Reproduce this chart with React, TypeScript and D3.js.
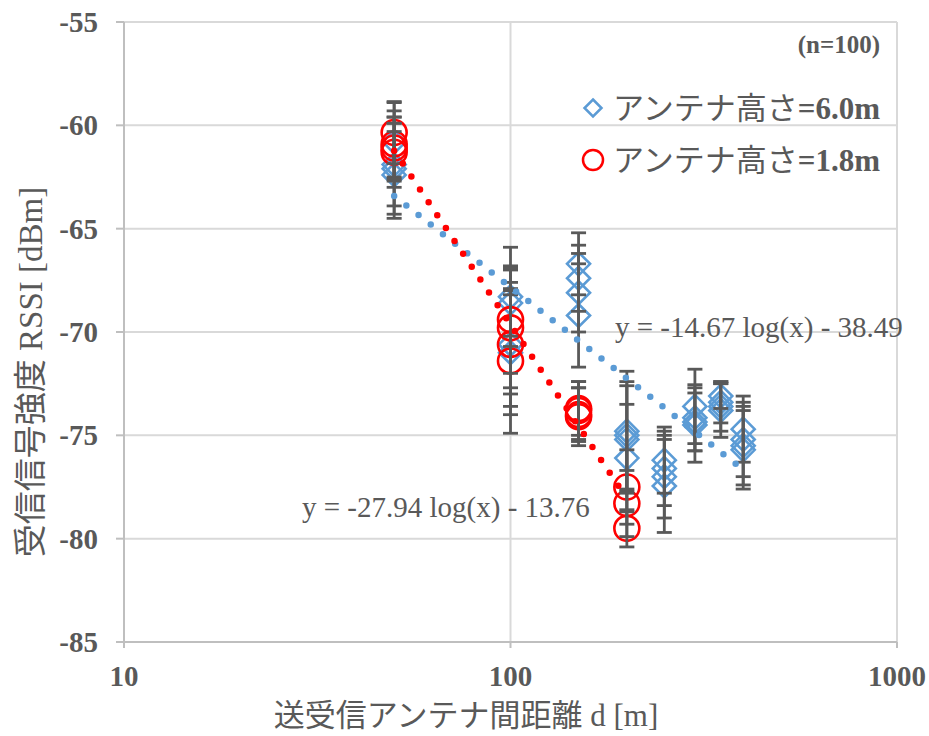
import React from "react";
import * as d3 from "d3";

// ---- Data ----
const blueDist = [50, 50, 50, 50, 100, 100, 100, 100, 150, 150, 150, 150, 200, 200, 200, 200, 250, 250, 250, 250, 300, 300, 300, 300, 350, 350, 350, 350, 400, 400, 400, 400];
const blueRSSI = [-60.8, -61.9, -62.1, -62.4, -68.3, -68.6, -70.6, -71.0, -66.7, -67.4, -68.1, -69.2, -74.8, -75.0, -75.2, -76.1, -76.2, -76.6, -77.0, -77.45, -73.6, -74.15, -74.35, -74.5, -73.1, -73.4, -73.6, -73.8, -74.7, -75.2, -75.5, -75.7];
const blueErr = [1.9, 2.0, 2.2, 2.1, 2.4, 1.6, 2.4, 3.0, 1.5, 1.6, 1.9, 2.5, 2.9, 2.6, 2.6, 2.6, 1.6, 1.8, 2.0, 2.25, 1.8, 1.6, 1.4, 1.8, 0.6, 1.0, 1.2, 1.3, 1.6, 1.8, 1.9, 1.9];

const redDist = [50, 50, 50, 50, 100, 100, 100, 100, 150, 150, 150, 150, 200, 200, 200];
const redRSSI = [-60.35, -60.9, -61.1, -61.3, -69.4, -69.8, -70.6, -71.4, -73.7, -73.8, -74.0, -74.1, -77.5, -78.3, -79.5];
const redErr = [1.5, 1.6, 1.5, 1.7, 2.6, 2.9, 3.0, 3.5, 1.3, 1.4, 1.3, 1.4, 1.8, 1.6, 0.9];

// trendlines: y = a*log10(x) + b
const trendA = [-14.67, -27.94];
const trendB = [-38.49, -13.76];
const trendFrom = [50, 50];
const trendTo = [400, 200];
const trendLabels = ["y = -14.67 log(x) - 38.49", "y = -27.94 log(x) - 13.76"];

const legendNames = ["アンテナ高さ", "アンテナ高さ"];
const legendValues = ["=6.0m", "=1.8m"];

const xTicks = [10, 100, 1000];
const yTicks = [-55, -60, -65, -70, -75, -80, -85];

const BLUE = "#5b9bd5";
const RED = "#ff0000";
const GRAY = "#595959";
const GRID = "#d9d9d9";
const SERIF = "'Liberation Serif', 'Times New Roman', serif";
const CJK = "'Noto Sans CJK JP', sans-serif";

export default function App() {
  const W = 929, H = 736;
  const x = d3.scaleLog().domain([10, 1000]).range([124, 897]);
  const y = d3.scaleLinear().domain([-85, -55]).range([642, 22]);

  const diamond = (cx: number, cy: number, s: number) =>
    `M${cx},${cy - s}L${cx + s},${cy}L${cx},${cy + s}L${cx - s},${cy}Z`;

  const errBars = (ds: number[], vs: number[], es: number[], key: string) =>
    ds.map((d, i) => {
      const cx = x(d);
      const y1 = y(vs[i] + es[i]);
      const y2 = y(vs[i] - es[i]);
      return (
        <g key={key + i} stroke={GRAY} strokeWidth={2.8}>
          <line x1={cx} x2={cx} y1={y1} y2={y2} />
          <line x1={cx - 7.5} x2={cx + 7.5} y1={y1} y2={y1} />
          <line x1={cx - 7.5} x2={cx + 7.5} y1={y2} y2={y2} />
        </g>
      );
    });

  const trendColors = [BLUE, RED];
  const line = d3.line<[number, number]>().x((p) => x(p[0])).y((p) => y(p[1]));

  return (
    <svg width={W} height={H} style={{ position: "absolute", left: 0, top: 0, background: "#fff" }}>
      <rect width={W} height={H} fill="#fff" />
      {/* grid */}
      {yTicks.map((t) => (
        <line key={"gy" + t} x1={x(10)} x2={x(1000)} y1={y(t)} y2={y(t)} stroke={GRID} strokeWidth={2} />
      ))}
      {xTicks.map((t) => (
        <line key={"gx" + t} x1={x(t)} x2={x(t)} y1={y(-55)} y2={y(-85)} stroke={GRID} strokeWidth={2} />
      ))}
      {/* axes */}
      <line x1={x(10)} x2={x(10)} y1={y(-55)} y2={y(-85)} stroke="#bfbfbf" strokeWidth={2} />
      <line x1={x(10)} x2={x(1000)} y1={y(-85)} y2={y(-85)} stroke="#bfbfbf" strokeWidth={2} />
      {yTicks.map((t) => (
        <line key={"ty" + t} x1={x(10) - 8} x2={x(10)} y1={y(t)} y2={y(t)} stroke="#bfbfbf" strokeWidth={2} />
      ))}
      {xTicks.map((t) => (
        <line key={"tx" + t} x1={x(t)} x2={x(t)} y1={y(-85)} y2={y(-85) + 6} stroke="#bfbfbf" strokeWidth={2} />
      ))}
      {/* tick labels */}
      {yTicks.map((t) => (
        <text key={"ly" + t} x={98} y={y(t) + 10} textAnchor="end" fontFamily={SERIF} fontWeight={700} fontSize={29} fill={GRAY}>
          {t}
        </text>
      ))}
      {xTicks.map((t) => (
        <text key={"lx" + t} x={x(t)} y={686} textAnchor="middle" fontFamily={SERIF} fontWeight={700} fontSize={29} fill={GRAY}>
          {t}
        </text>
      ))}
      {/* axis titles */}
      <text x={466} y={726} textAnchor="middle" fontSize={31} fill={GRAY}>
        <tspan fontFamily={CJK}>送受信アンテナ間距離</tspan>
        <tspan fontFamily={SERIF}> d [m]</tspan>
      </text>
      <text transform="translate(42,372) rotate(-90)" textAnchor="middle" fontSize={33} fill={GRAY}>
        <tspan fontFamily={CJK}>受信信号強度</tspan>
        <tspan fontFamily={SERIF}> RSSI [dBm]</tspan>
      </text>

      {/* markers blue */}
      {blueDist.map((d, i) => (
        <path key={"bm" + i} d={diamond(x(d), y(blueRSSI[i]), 11.5)} fill="none" stroke={BLUE} strokeWidth={2.6} />
      ))}
      {/* markers red */}
      {redDist.map((d, i) => (
        <circle key={"rm" + i} cx={x(d)} cy={y(redRSSI[i])} r={12.5} fill="none" stroke={RED} strokeWidth={2.6} />
      ))}
      {/* error bars */}
      {errBars(blueDist, blueRSSI, blueErr, "be")}
      {errBars(redDist, redRSSI, redErr, "re")}
      {/* trendlines */}
      {trendA.map((a, k) => (
        <path
          key={"tr" + k}
          d={line([
            [trendFrom[k], a * Math.log10(trendFrom[k]) + trendB[k]],
            [trendTo[k], a * Math.log10(trendTo[k]) + trendB[k]],
          ]) || ""}
          fill="none"
          stroke={trendColors[k]}
          strokeWidth={6.5}
          strokeLinecap="round"
          strokeDasharray="0 15.5"
        />
      ))}
      {/* trend labels */}
      <text x={615} y={337} fontFamily={SERIF} fontSize={29} fill={GRAY}>{trendLabels[0]}</text>
      <text x={302} y={517} fontFamily={SERIF} fontSize={29} fill={GRAY}>{trendLabels[1]}</text>

      {/* n label */}
      <text x={880} y={53} textAnchor="end" fontFamily={SERIF} fontWeight={700} fontSize={25} fill={GRAY}>(n=100)</text>

      {/* legend */}
      <path d={diamond(593, 108, 8.5)} fill="none" stroke={BLUE} strokeWidth={2.5} />
      <circle cx={593} cy={160} r={10} fill="none" stroke={RED} strokeWidth={2.5} />
      {[0, 1].map((k) => (
        <text key={"lg" + k} x={880} y={[119, 171][k]} textAnchor="end" fill={GRAY}>
          <tspan fontFamily={CJK} fontSize={31}>{legendNames[k]}</tspan>
          <tspan fontFamily={SERIF} fontWeight={700} fontSize={31}>{legendValues[k]}</tspan>
        </text>
      ))}
    </svg>
  );
}
